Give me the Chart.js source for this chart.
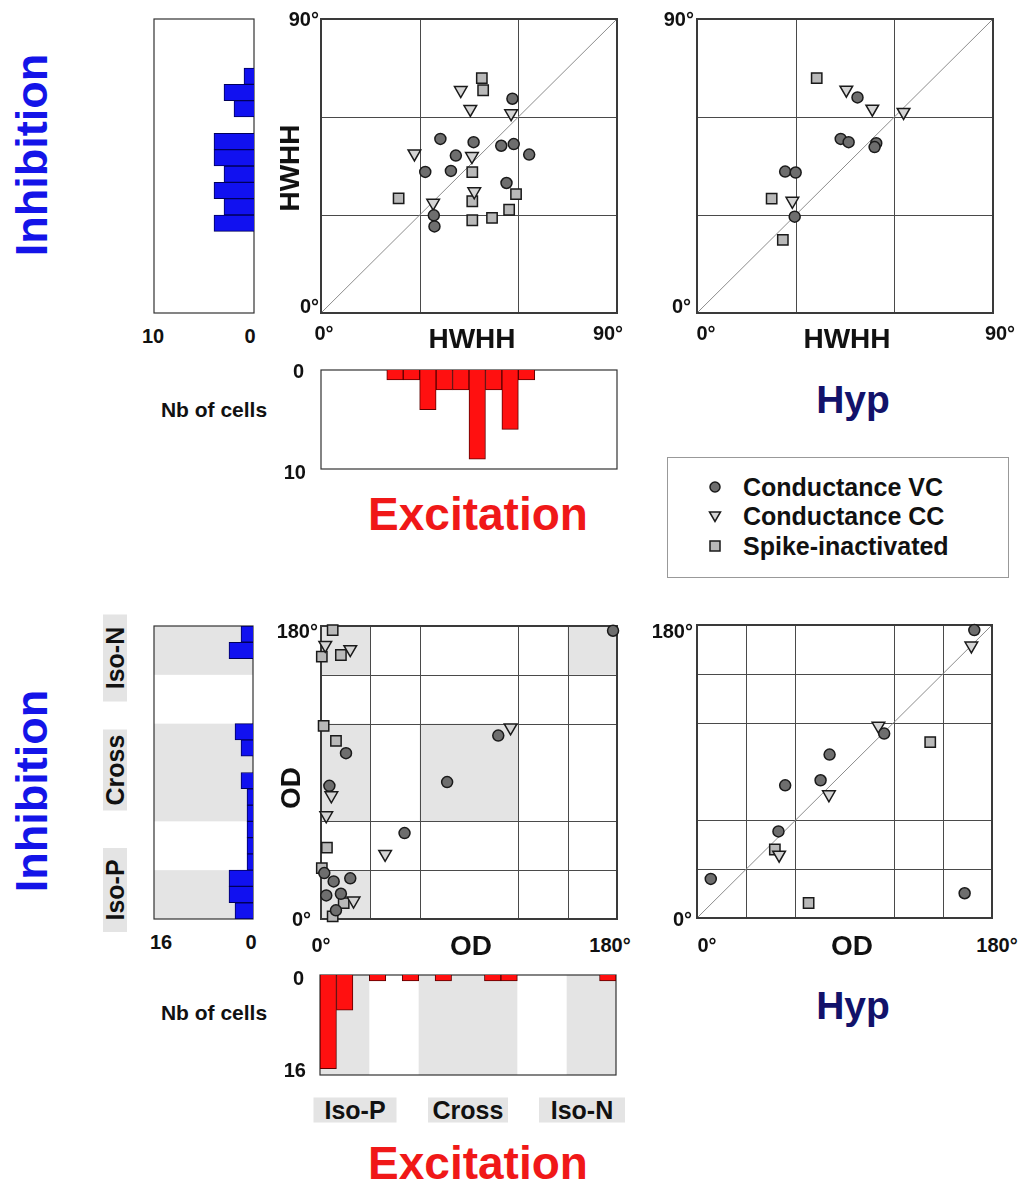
<!DOCTYPE html>
<html>
<head>
<meta charset="utf-8">
<script src="https://cdn.jsdelivr.net/npm/chart.js@4.4.1/dist/chart.umd.min.js"></script>
<style>
  body { margin: 0; background: #fff; }
  #page { position: relative; width: 1022px; height: 1184px; overflow: hidden;
          font-family: "Liberation Sans", Arial, sans-serif; font-weight: bold; color: #111; }
  .t { position: absolute; white-space: nowrap; line-height: 1; }
  canvas { position: absolute; }
</style>
</head>
<body>
<div id="page"></div>
<script>
// ---- tick labels / categories ----
var hwhhTicks = ['0°', '90°'];
var odTicks = ['0°', '180°'];
var hwhhGrid = [30, 60];
var odGrid = [30, 60, 120, 150];
var hwhhBins = ['0-5', '5-10', '10-15', '15-20', '20-25', '25-30', '30-35', '35-40', '40-45',
                '45-50', '50-55', '55-60', '60-65', '65-70', '70-75', '75-80', '80-85', '85-90'];
var odBins = ['0-10', '10-20', '20-30', '30-40', '40-50', '50-60', '60-70', '70-80', '80-90',
              '90-100', '100-110', '110-120', '120-130', '130-140', '140-150', '150-160', '160-170', '170-180'];
var odClasses = ['Iso-P', 'Cross', 'Iso-N'];
var odBands = [[0, 30], [60, 120], [150, 180]];
var legendNames = ['Conductance VC', 'Conductance CC', 'Spike-inactivated'];

// ---- histograms (nb of cells) ----
var hwhhInhCounts = [0, 0, 0, 0, 0, 4, 3, 4, 3, 4, 4, 0, 2, 3, 1, 0, 0, 0];
var hwhhExcCounts = [0, 0, 0, 0, 1, 1, 4, 2, 2, 9, 2, 6, 1, 0, 0, 0, 0, 0];
var odInhCounts = [3, 4, 4, 1, 1, 1, 1, 1, 2, 0, 2, 3, 0, 0, 0, 0, 4, 2];
var odExcCounts = [16, 6, 0, 1, 0, 1, 0, 1, 0, 0, 1, 1, 0, 0, 0, 0, 0, 1];

// ---- scatter: HWHH (excitation x, inhibition y) ----
var hwhhVC = [[58.2, 65.6], [36.3, 53.3], [46.4, 52.3], [54.8, 51.2], [58.6, 51.7], [63.3, 48.5],
              [41.0, 48.2], [31.7, 43.2], [39.5, 43.5], [56.4, 39.8], [34.3, 29.9], [34.5, 26.5]];
var hwhhCC = [[42.5, 68.2], [45.4, 62.4], [57.8, 61.1], [28.4, 48.8], [45.9, 48.0], [46.6, 37.2], [34.1, 33.7]];
var hwhhSI = [[48.9, 71.9], [49.3, 68.2], [23.6, 35.1], [46.0, 43.1], [46.0, 34.2], [46.0, 28.4],
              [52.0, 29.1], [57.2, 31.6], [59.3, 36.4]];

// ---- scatter: HWHH Hyp ----
var hypHwhhVC = [[48.8, 66.0], [43.7, 53.3], [46.1, 52.3], [54.5, 52.0], [54.0, 50.8], [26.8, 43.3],
                 [30.0, 43.0], [29.7, 29.5]];
var hypHwhhCC = [[45.4, 68.3], [53.3, 62.5], [62.8, 61.5], [29.0, 34.3]];
var hypHwhhSI = [[36.4, 71.9], [22.7, 35.0], [26.1, 22.4]];

// ---- scatter: OD ----
var odVC = [[177.6, 177.1], [107.8, 112.7], [15.2, 101.9], [76.7, 84.1], [5.1, 81.8], [50.8, 52.8],
            [2.0, 28.2], [7.7, 23.1], [17.8, 25.0], [3.2, 14.5], [12.1, 15.5], [9.1, 5.3]];
var odCC = [[2.6, 168.3], [17.8, 165.7], [115.3, 117.6], [6.3, 75.9], [3.2, 63.6], [39.0, 39.9], [19.8, 11.2]];
var odSI = [[7.1, 177.5], [0.5, 161.2], [12.1, 162.2], [1.6, 118.6], [9.1, 109.4], [3.6, 43.8],
            [0.5, 31.3], [13.8, 9.8], [7.1, 1.6]];

// ---- scatter: OD Hyp ----
var hypOdVC = [[169.2, 176.9], [114.2, 113.3], [80.9, 100.4], [75.4, 84.6], [53.8, 81.5], [49.7, 53.2],
               [8.4, 24.0], [163.3, 15.2]];
var hypOdCC = [[167.4, 167.3], [110.7, 118.0], [80.5, 75.9], [50.1, 38.8]];
var hypOdSI = [[142.3, 108.0], [47.5, 42.1], [68.1, 9.2]];

var PAD = 12;
var page = document.getElementById('page');

var markerStyles = {
    circle:   { pointStyle: 'circle',   pointRadius: 5.5, pointBackgroundColor: '#6e6e6e', pointRotation: 0 },
    triangle: { pointStyle: 'triangle', pointRadius: 7.3, pointBackgroundColor: '#d4d4d4', pointRotation: 180 },
    rect:     { pointStyle: 'rect',     pointRadius: 7.3, pointBackgroundColor: '#b9b9b9', pointRotation: 0 }
};

// frame, grid, shading and diagonal drawn from the chart's own scales
var framePlugin = {
    id: 'frame',
    beforeDatasetsDraw: function (chart, args, opts) {
        var ctx = chart.ctx, a = chart.chartArea;
        ctx.save();
        if (opts.bands) {
            var ds = chart.scales.deg;
            ctx.fillStyle = '#e4e4e4';
            opts.bands.forEach(function (b) {
                var p0 = ds.getPixelForValue(b[0]), p1 = ds.getPixelForValue(b[1]);
                if (ds.isHorizontal()) ctx.fillRect(Math.min(p0, p1), a.top, Math.abs(p1 - p0), a.height);
                else ctx.fillRect(a.left, Math.min(p0, p1), a.width, Math.abs(p1 - p0));
            });
        }
        var xs = chart.scales.x, ys = chart.scales.y;
        if (opts.shade) {
            ctx.fillStyle = '#e4e4e4';
            opts.shade.forEach(function (s) {
                var x0 = xs.getPixelForValue(s[0]), x1 = xs.getPixelForValue(s[1]);
                var y0 = ys.getPixelForValue(s[2]), y1 = ys.getPixelForValue(s[3]);
                ctx.fillRect(Math.min(x0, x1), Math.min(y0, y1), Math.abs(x1 - x0), Math.abs(y1 - y0));
            });
        }
        if (opts.grid) {
            ctx.strokeStyle = '#4a4a4a';
            ctx.lineWidth = 1;
            opts.grid.forEach(function (g) {
                var px = Math.round(xs.getPixelForValue(g)) + 0.5;
                var py = Math.round(ys.getPixelForValue(g)) + 0.5;
                ctx.beginPath();
                ctx.moveTo(px, a.top); ctx.lineTo(px, a.bottom);
                ctx.moveTo(a.left, py); ctx.lineTo(a.right, py);
                ctx.stroke();
            });
        }
        if (opts.diag) {
            ctx.strokeStyle = '#8c8c8c';
            ctx.lineWidth = 1;
            ctx.beginPath();
            ctx.moveTo(xs.getPixelForValue(xs.min), ys.getPixelForValue(ys.min));
            ctx.lineTo(xs.getPixelForValue(xs.max), ys.getPixelForValue(ys.max));
            ctx.stroke();
        }
        ctx.strokeStyle = opts.borderColor || '#3a3a3a';
        ctx.lineWidth = opts.borderWidth || 2;
        ctx.strokeRect(a.left, a.top, a.width, a.height);
        ctx.restore();
    }
};

function makeCanvas(left, top, w, h) {
    var c = document.createElement('canvas');
    c.width = w + 2 * PAD;
    c.height = h + 2 * PAD;
    c.style.left = (left - PAD) + 'px';
    c.style.top = (top - PAD) + 'px';
    c.style.width = c.width + 'px';
    c.style.height = c.height + 'px';
    page.appendChild(c);
    return c.getContext('2d');
}

function markerSet(label, data, kind) {
    return Object.assign({
        label: label,
        data: data,
        showLine: false,
        pointBorderColor: '#1a1a1a',
        pointBorderWidth: 1.5,
        clip: false
    }, markerStyles[kind]);
}

function scatterPanel(left, top, w, h, max, grid, shade, diag, sets) {
    var ctx = makeCanvas(left, top, w, h);
    return new Chart(ctx, {
        type: 'scatter',
        data: {
            datasets: [
                markerSet(legendNames[0], sets[0], 'circle'),
                markerSet(legendNames[1], sets[1], 'triangle'),
                markerSet(legendNames[2], sets[2], 'rect')
            ]
        },
        options: {
            responsive: false, animation: false, devicePixelRatio: 1,
            layout: { padding: PAD },
            events: [],
            scales: {
                x: { type: 'linear', min: 0, max: max, display: false },
                y: { type: 'linear', min: 0, max: max, display: false }
            },
            plugins: {
                legend: { display: false }, tooltip: { enabled: false },
                frame: { grid: grid, shade: shade, diag: diag }
            }
        },
        plugins: [framePlugin]
    });
}

// horizontal bars = inhibition (grow leftwards), vertical bars = excitation (grow downwards)
function histPanel(left, top, w, h, bins, counts, maxCount, horizontal, color, edge, bands) {
    var ctx = makeCanvas(left, top, w, h);
    var valueScale = { type: 'linear', min: 0, max: maxCount, reverse: true, display: false };
    var binScale = { type: 'category', display: false, reverse: horizontal };
    var degScale = { type: 'linear', axis: horizontal ? 'y' : 'x', min: 0, max: 180,
                     offset: false, display: false };
    var scales = horizontal
        ? { x: valueScale, y: binScale, deg: degScale }
        : { x: binScale, y: valueScale, deg: degScale };
    return new Chart(ctx, {
        type: 'bar',
        data: {
            labels: bins,
            datasets: [{
                data: counts,
                backgroundColor: color,
                borderColor: edge,
                borderWidth: 1,
                borderSkipped: 'start',
                barPercentage: 1,
                categoryPercentage: 1
            }]
        },
        options: {
            indexAxis: horizontal ? 'y' : 'x',
            responsive: false, animation: false, devicePixelRatio: 1,
            layout: { padding: PAD },
            events: [],
            scales: scales,
            plugins: {
                legend: { display: false }, tooltip: { enabled: false },
                frame: { bands: bands, borderColor: '#333', borderWidth: 1.2 }
            }
        },
        plugins: [framePlugin]
    });
}

function addText(s, x, y, size, color, opt) {
    opt = opt || {};
    var d = document.createElement('div');
    d.className = 't';
    d.textContent = s;
    var tr = 'translate(' + (opt.right ? '-100%' : '-50%') + ',-50%)' + (opt.rot ? ' rotate(-90deg)' : '');
    d.style.left = x + 'px';
    d.style.top = y + 'px';
    d.style.fontSize = size + 'px';
    d.style.color = color || '#111';
    d.style.transform = tr;
    if (opt.bg) {
        d.style.background = opt.bg;
        d.style.width = opt.w + 'px';
        d.style.height = opt.h + 'px';
        d.style.lineHeight = opt.h + 'px';
        d.style.textAlign = 'center';
    }
    page.appendChild(d);
}

// ---------------- charts ----------------
var BLUE = '#1111f0', RED = '#ff1010';
histPanel(154, 19, 100, 294, hwhhBins, hwhhInhCounts, 10, true, BLUE, '#00005a', null);
scatterPanel(321, 19, 296, 294, 90, hwhhGrid, null, true, [hwhhVC, hwhhCC, hwhhSI]);
scatterPanel(697, 19, 296, 294, 90, hwhhGrid, null, true, [hypHwhhVC, hypHwhhCC, hypHwhhSI]);
histPanel(321, 370, 296, 99, hwhhBins, hwhhExcCounts, 10, false, RED, '#5a0000', null);

var odShade = [[0, 30, 150, 180], [0, 30, 60, 120], [0, 30, 0, 30], [60, 120, 60, 120], [150, 180, 150, 180]];
histPanel(154, 626, 99, 293, odBins, odInhCounts, 16.5, true, BLUE, '#00005a', odBands);
scatterPanel(321, 626, 296, 293, 180, odGrid, odShade, false, [odVC, odCC, odSI]);
scatterPanel(697, 625, 295, 293, 180, odGrid, null, true, [hypOdVC, hypOdCC, hypOdSI]);
histPanel(320, 975, 296, 100, odBins, odExcCounts, 17.1, false, RED, '#5a0000', odBands);

// ---------------- texts ----------------
var INH = '#1414e8', EXC = '#f01818', HYP = '#12126a';
addText('Inhibition', 31, 155, 45, INH, { rot: true });
addText('Inhibition', 31, 791, 45, INH, { rot: true });
addText('Excitation', 478, 514, 46, EXC);
addText('Excitation', 478, 1163, 46, EXC);
addText('Hyp', 853, 399, 39, HYP);
addText('Hyp', 853, 1005, 39, HYP);
addText('Nb of cells', 214, 409, 21);
addText('Nb of cells', 214, 1012, 21);

// top row ticks
addText('10', 153, 336, 20);
addText('0', 250, 336, 20);
addText(hwhhTicks[1], 319, 19, 20, null, { right: true });
addText(hwhhTicks[0], 319, 306, 20, null, { right: true });
addText(hwhhTicks[0], 324, 333, 20);
addText(hwhhTicks[1], 608, 333, 20);
addText('HWHH', 290, 168, 28, null, { rot: true });
addText('HWHH', 472, 339, 28);
addText(hwhhTicks[1], 694, 19, 20, null, { right: true });
addText(hwhhTicks[0], 691, 306, 20, null, { right: true });
addText(hwhhTicks[0], 706, 333, 20);
addText(hwhhTicks[1], 1000, 333, 20);
addText('HWHH', 847, 339, 28);
addText('0', 304, 371, 20, null, { right: true });
addText('10', 306, 472, 20, null, { right: true });

// bottom row ticks
addText('16', 161, 942, 20);
addText('0', 251, 942, 20);
addText(odTicks[1], 318, 631, 20, null, { right: true });
addText(odTicks[0], 311, 919, 20, null, { right: true });
addText(odTicks[0], 321, 945, 20);
addText(odTicks[1], 610, 945, 20);
addText('OD', 291, 788, 28, null, { rot: true });
addText('OD', 471, 946, 28);
addText(odTicks[1], 693, 631, 20, null, { right: true });
addText(odTicks[0], 692, 919, 20, null, { right: true });
addText(odTicks[0], 707, 945, 20);
addText(odTicks[1], 997, 945, 20);
addText('OD', 852, 946, 28);
addText('0', 304, 978, 20, null, { right: true });
addText('16', 306, 1070, 20, null, { right: true });

// OD class boxes
var GRAYBOX = '#e4e4e4';
addText(odClasses[2], 115, 658, 25, null, { rot: true, bg: GRAYBOX, w: 87, h: 24 });
addText(odClasses[1], 115, 770, 25, null, { rot: true, bg: GRAYBOX, w: 81, h: 24 });
addText(odClasses[0], 115, 890, 25, null, { rot: true, bg: GRAYBOX, w: 84, h: 24 });
addText(odClasses[0], 355, 1110, 25, null, { bg: GRAYBOX, w: 83, h: 25 });
addText(odClasses[1], 468, 1110, 25, null, { bg: GRAYBOX, w: 80, h: 25 });
addText(odClasses[2], 582, 1110, 25, null, { bg: GRAYBOX, w: 86, h: 25 });

// legend
var lg = document.createElement('div');
lg.style.cssText = 'position:absolute;left:667px;top:457px;width:340px;height:119px;border:1px solid #999;';
page.appendChild(lg);
var legendIcons = [
    '<circle cx="8" cy="8" r="5" fill="#6e6e6e" stroke="#1a1a1a" stroke-width="1.5"/>',
    '<polygon points="2.5,4 13.5,4 8,13.5" fill="#d4d4d4" stroke="#1a1a1a" stroke-width="1.5"/>',
    '<rect x="3" y="3" width="10" height="10" fill="#b9b9b9" stroke="#1a1a1a" stroke-width="1.5"/>'
];
var rowY = [487, 516, 546];
legendNames.forEach(function (name, i) {
    var ic = document.createElement('div');
    ic.style.cssText = 'position:absolute;left:707px;top:' + (rowY[i] - 8) + 'px;width:16px;height:16px;';
    ic.innerHTML = '<svg width="16" height="16">' + legendIcons[i] + '</svg>';
    page.appendChild(ic);
    var t = document.createElement('div');
    t.className = 't';
    t.textContent = name;
    t.style.cssText += 'left:743px;top:' + rowY[i] + 'px;font-size:25px;transform:translate(0,-50%);';
    page.appendChild(t);
});
</script>
</body>
</html>
